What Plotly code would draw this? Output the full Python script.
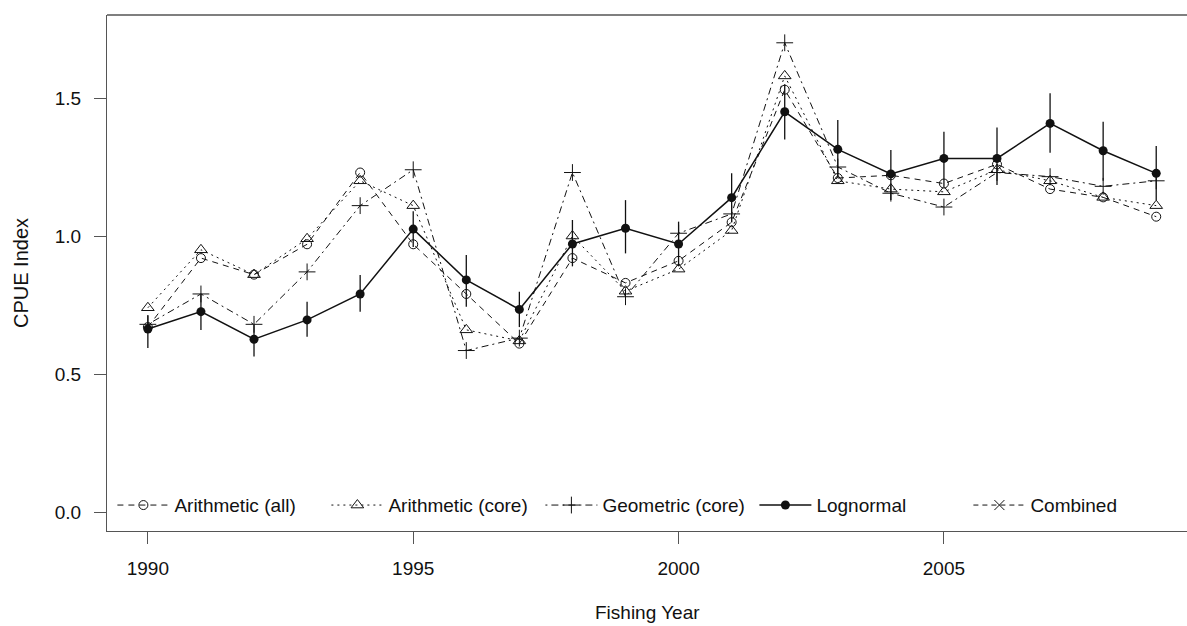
import plotly.graph_objects as go

# Fishing years on the x axis
years = list(range(1990, 2010))

# Standardised CPUE indices by method
arith_all = [0.67, 0.92, 0.86, 0.97, 1.23, 0.97, 0.79, 0.61, 0.92, 0.83,
             0.91, 1.05, 1.53, 1.21, 1.22, 1.19, 1.26, 1.17, 1.14, 1.07]
arith_core = [0.74, 0.95, 0.86, 0.99, 1.20, 1.11, 0.66, 0.62, 1.00, 0.80,
              0.88, 1.02, 1.58, 1.20, 1.17, 1.16, 1.24, 1.20, 1.14, 1.11]
geometric = [0.68, 0.79, 0.68, 0.87, 1.11, 1.24, 0.585, 0.63, 1.23, 0.78,
             1.01, 1.08, 1.70, 1.25, 1.155, 1.105, 1.23, 1.215, 1.18, 1.20]
lognormal = [0.663, 0.726, 0.626, 0.696, 0.790, 1.025, 0.841, 0.734, 0.971, 1.028,
             0.971, 1.139, 1.450, 1.314, 1.225, 1.281, 1.281, 1.408, 1.309, 1.227]
# Lognormal confidence limits
logn_lo = [0.594, 0.659, 0.563, 0.635, 0.726, 0.960, 0.744, 0.670, 0.890, 0.937,
           0.890, 1.050, 1.350, 1.210, 1.130, 1.180, 1.185, 1.302, 1.200, 1.130]
logn_hi = [0.714, 0.786, 0.678, 0.762, 0.859, 1.090, 0.931, 0.798, 1.058, 1.130,
           1.052, 1.227, 1.550, 1.420, 1.312, 1.378, 1.393, 1.517, 1.414, 1.326]

x_ticks = [1990, 1995, 2000, 2005]
y_ticks = [0.0, 0.5, 1.0, 1.5]
y_tick_text = ["0.0", "0.5", "1.0", "1.5"]

FONT = "Liberation Sans, Arial, sans-serif"
FSIZE = 19
INK = "#111"

fig = go.Figure()

fig.add_trace(go.Scatter(
    x=years, y=arith_all, name="Arithmetic (all)", mode="lines+markers",
    line=dict(color=INK, width=1, dash="6px,5px"),
    marker=dict(symbol="circle-open", size=9, color=INK, line=dict(width=1, color=INK)),
))
fig.add_trace(go.Scatter(
    x=years, y=arith_core, name="Arithmetic (core)", mode="lines+markers",
    line=dict(color=INK, width=1, dash="2px,4px"),
    marker=dict(symbol="triangle-up-open", size=11, color=INK, line=dict(width=1, color=INK)),
))
fig.add_trace(go.Scatter(
    x=years, y=geometric, name="Geometric (core)", mode="lines+markers",
    line=dict(color=INK, width=1, dash="2px,4px,7px,4px"),
    marker=dict(symbol="cross-thin-open", size=12, color=INK, line=dict(width=1, color=INK)),
))
err_plus = [h - v for h, v in zip(logn_hi, lognormal)]
err_minus = [v - l for v, l in zip(lognormal, logn_lo)]
fig.add_trace(go.Scatter(
    x=years, y=lognormal, name="Lognormal", mode="lines+markers",
    line=dict(color=INK, width=1.5),
    marker=dict(symbol="circle", size=9, color=INK),
    error_y=dict(type="data", symmetric=False, array=err_plus, arrayminus=err_minus,
                 width=0, thickness=1.3, color=INK),
))
fig.add_trace(go.Scatter(
    x=[None], y=[None], name="Combined", mode="lines+markers",
    line=dict(color=INK, width=1, dash="5px,4px"),
    marker=dict(symbol="x-thin-open", size=10, color=INK, line=dict(width=1, color=INK)),
))

axis_line = "#555"
fig.update_xaxes(
    range=[1989.23, 2009.58], showgrid=False, zeroline=False,
    showline=True, linecolor=axis_line, linewidth=1.3,
    tickmode="array", tickvals=x_ticks, ticks="outside", ticklen=12,
    tickcolor=axis_line, tickwidth=1.3, ticklabelstandoff=8,
    tickfont=dict(family=FONT, size=FSIZE, color=INK),
)
fig.update_yaxes(
    range=[-0.0688, 1.8007], showgrid=False, zeroline=False,
    showline=True, linecolor=axis_line, linewidth=1.3,
    tickmode="array", tickvals=y_ticks, ticktext=y_tick_text,
    ticks="outside", ticklen=12, tickcolor=axis_line, tickwidth=1.3,
    ticklabelstandoff=9,
    tickfont=dict(family=FONT, size=FSIZE, color=INK),
)

# top edge of the plot frame
fig.add_shape(type="line", xref="paper", yref="paper", x0=0, x1=1, y0=1, y1=1,
              line=dict(color=axis_line, width=1.3))

fig.add_annotation(text="Fishing Year", xref="paper", yref="paper", x=0.5, y=0,
                   yanchor="middle", yshift=-81, showarrow=False,
                   font=dict(family=FONT, size=FSIZE, color=INK))
fig.add_annotation(text="CPUE Index", xref="paper", yref="paper", x=0, y=0.5,
                   xanchor="center", xshift=-86, textangle=-90, showarrow=False,
                   font=dict(family=FONT, size=20, color=INK))

fig.update_layout(
    width=1187, height=626,
    margin=dict(l=107, r=0, t=15, b=95),
    paper_bgcolor="white", plot_bgcolor="white",
    showlegend=True,
    legend=dict(
        orientation="h", x=0.005, y=0.05, xanchor="left", yanchor="middle",
        bgcolor="rgba(0,0,0,0)", borderwidth=0,
        entrywidth=147, itemwidth=52, traceorder="normal",
        font=dict(family=FONT, size=FSIZE, color=INK),
    ),
)

fig.write_html("out.html")
